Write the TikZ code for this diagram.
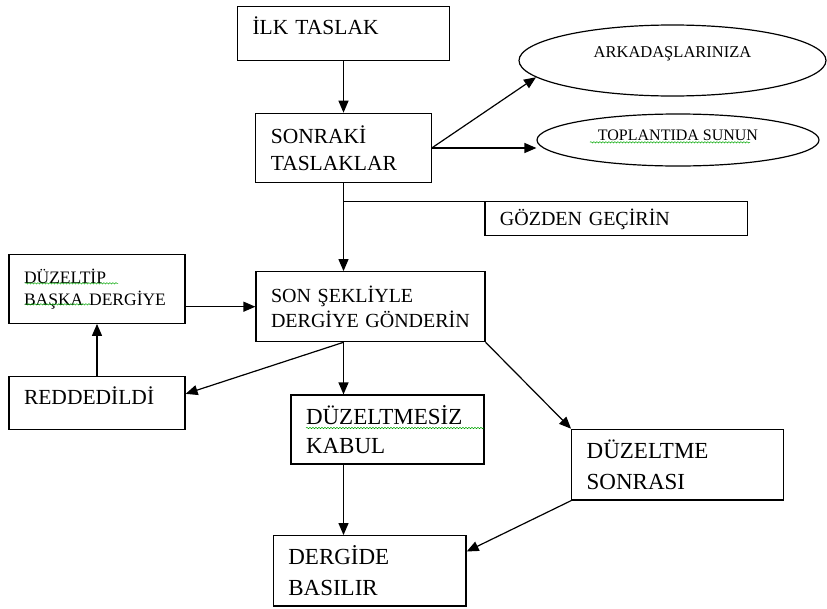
\documentclass[tikz,border=0pt]{standalone}
\usepackage{fontspec}
\setmainfont{Liberation Serif}
\usetikzlibrary{calc, positioning, shapes.geometric, arrows.meta, decorations.pathmorphing}

\begin{document}
\begin{tikzpicture}[x=1pt, y=-1pt, line width=1.2pt,
  kutu/.style={draw, rectangle, align=left, inner xsep=15pt, inner ysep=0pt},
  elips/.style={draw, ellipse, inner sep=0pt},
  ok/.style={-{Triangle[length=12pt, width=10pt]}},
  dalga/.style={draw=green!65!black, line width=.5pt, decorate, decoration={snake, amplitude=.7pt, segment length=3pt}}]
\useasboundingbox (0,0) rectangle (827,608);
\node[kutu, text width=182pt, minimum height=54pt, font=\fontsize{21.5}{27}\selectfont, text height=15pt, text depth=12.8pt] (ilk) at (343.5,33.7) {İLK TASLAK};
\node[kutu, text width=145.3pt, minimum height=69.4pt, font=\fontsize{21.5}{27}\selectfont] (sonraki) at (343.5,148) {SONRAKİ\\TASLAKLAR};
\node[elips, minimum width=307pt, minimum height=71pt, font=\fontsize{16.5}{20}\selectfont, text height=12pt, text depth=19pt] (arkadas) at (672.5,60.5) {ARKADAŞLARINIZA\hspace{32pt}};
\node[elips, minimum width=282pt, minimum height=52pt, font=\fontsize{16}{20}\selectfont, text height=12pt, text depth=11.4pt] (toplanti) at (678,140) {TOPLANTIDA SUNUN\hspace{16pt}};
\node[kutu, text width=232.7pt, minimum height=34pt, font=\fontsize{20}{25}\selectfont, text height=13.2pt, text depth=0pt] (gozden) at (616.3,218.7) {GÖZDEN GEÇİRİN};
\node[kutu, text width=146pt, minimum height=69pt, font=\fontsize{17.5}{21.7}\selectfont] (duzeltip) at (97,288.8) {DÜZELTİP\\BAŞKA DERGİYE};
\node[kutu, text width=199pt, minimum height=70pt, font=\fontsize{20}{25}\selectfont] (son) at (370.5,306.7) {SON ŞEKLİYLE\\DERGİYE GÖNDERİN};
\node[kutu, text width=146pt, minimum height=52.6pt, font=\fontsize{21.5}{27}\selectfont, text height=15pt, text depth=12.8pt] (red) at (97,403) {REDDEDİLDİ};
\node[kutu, text width=163pt, minimum height=69pt, font=\fontsize{23}{29.7}\selectfont] (kabul) at (387.5,429.5) {DÜZELTMESİZ\\KABUL};
\node[kutu, text width=181.6pt, minimum height=70.7pt, font=\fontsize{23}{30.7}\selectfont] (sonrasi) at (677.5,464.7) {DÜZELTME\\SONRASI};
\node[kutu, text width=162.7pt, minimum height=70.3pt, font=\fontsize{23}{30.7}\selectfont] (basilir) at (369.7,570.8) {DERGİDE\\BASILIR};

\draw[ok] (ilk) -- (sonraki);
\draw[ok] (sonraki.south) -- (son.north -| sonraki.south);
\draw (sonraki.south |- gozden.north west) -- (gozden.north west);
\draw[ok] (sonraki.east) -- (arkadas.187);
\draw[ok] (sonraki.east) -- (sonraki.east -| toplanti.west);
\draw[ok] (duzeltip.east |- son.west) -- (son.west);
\draw[ok] (red.north) -- (duzeltip.south);
\draw[ok] (son.south -| sonraki.south) -- ($(red.north east)!.33!(red.south east)$);
\draw[ok] (son.south -| sonraki.south) -- (kabul.north -| sonraki.south);
\draw[ok] (son.south east) -- (sonrasi.north west);
\draw[ok] (kabul.south -| sonraki.south) -- (basilir.north -| sonraki.south);
\draw[ok] (sonrasi.south west) -- ($(basilir.north east)!.23!(basilir.south east)$);

\draw[dalga] (25,283.3) -- (118,283.3);
\draw[dalga] (25,304.3) -- (90,304.3);
\draw[dalga] (306,428) -- (484,428);
\draw[dalga] (590,142.3) -- (750,142.3);
\end{tikzpicture}
\end{document}
